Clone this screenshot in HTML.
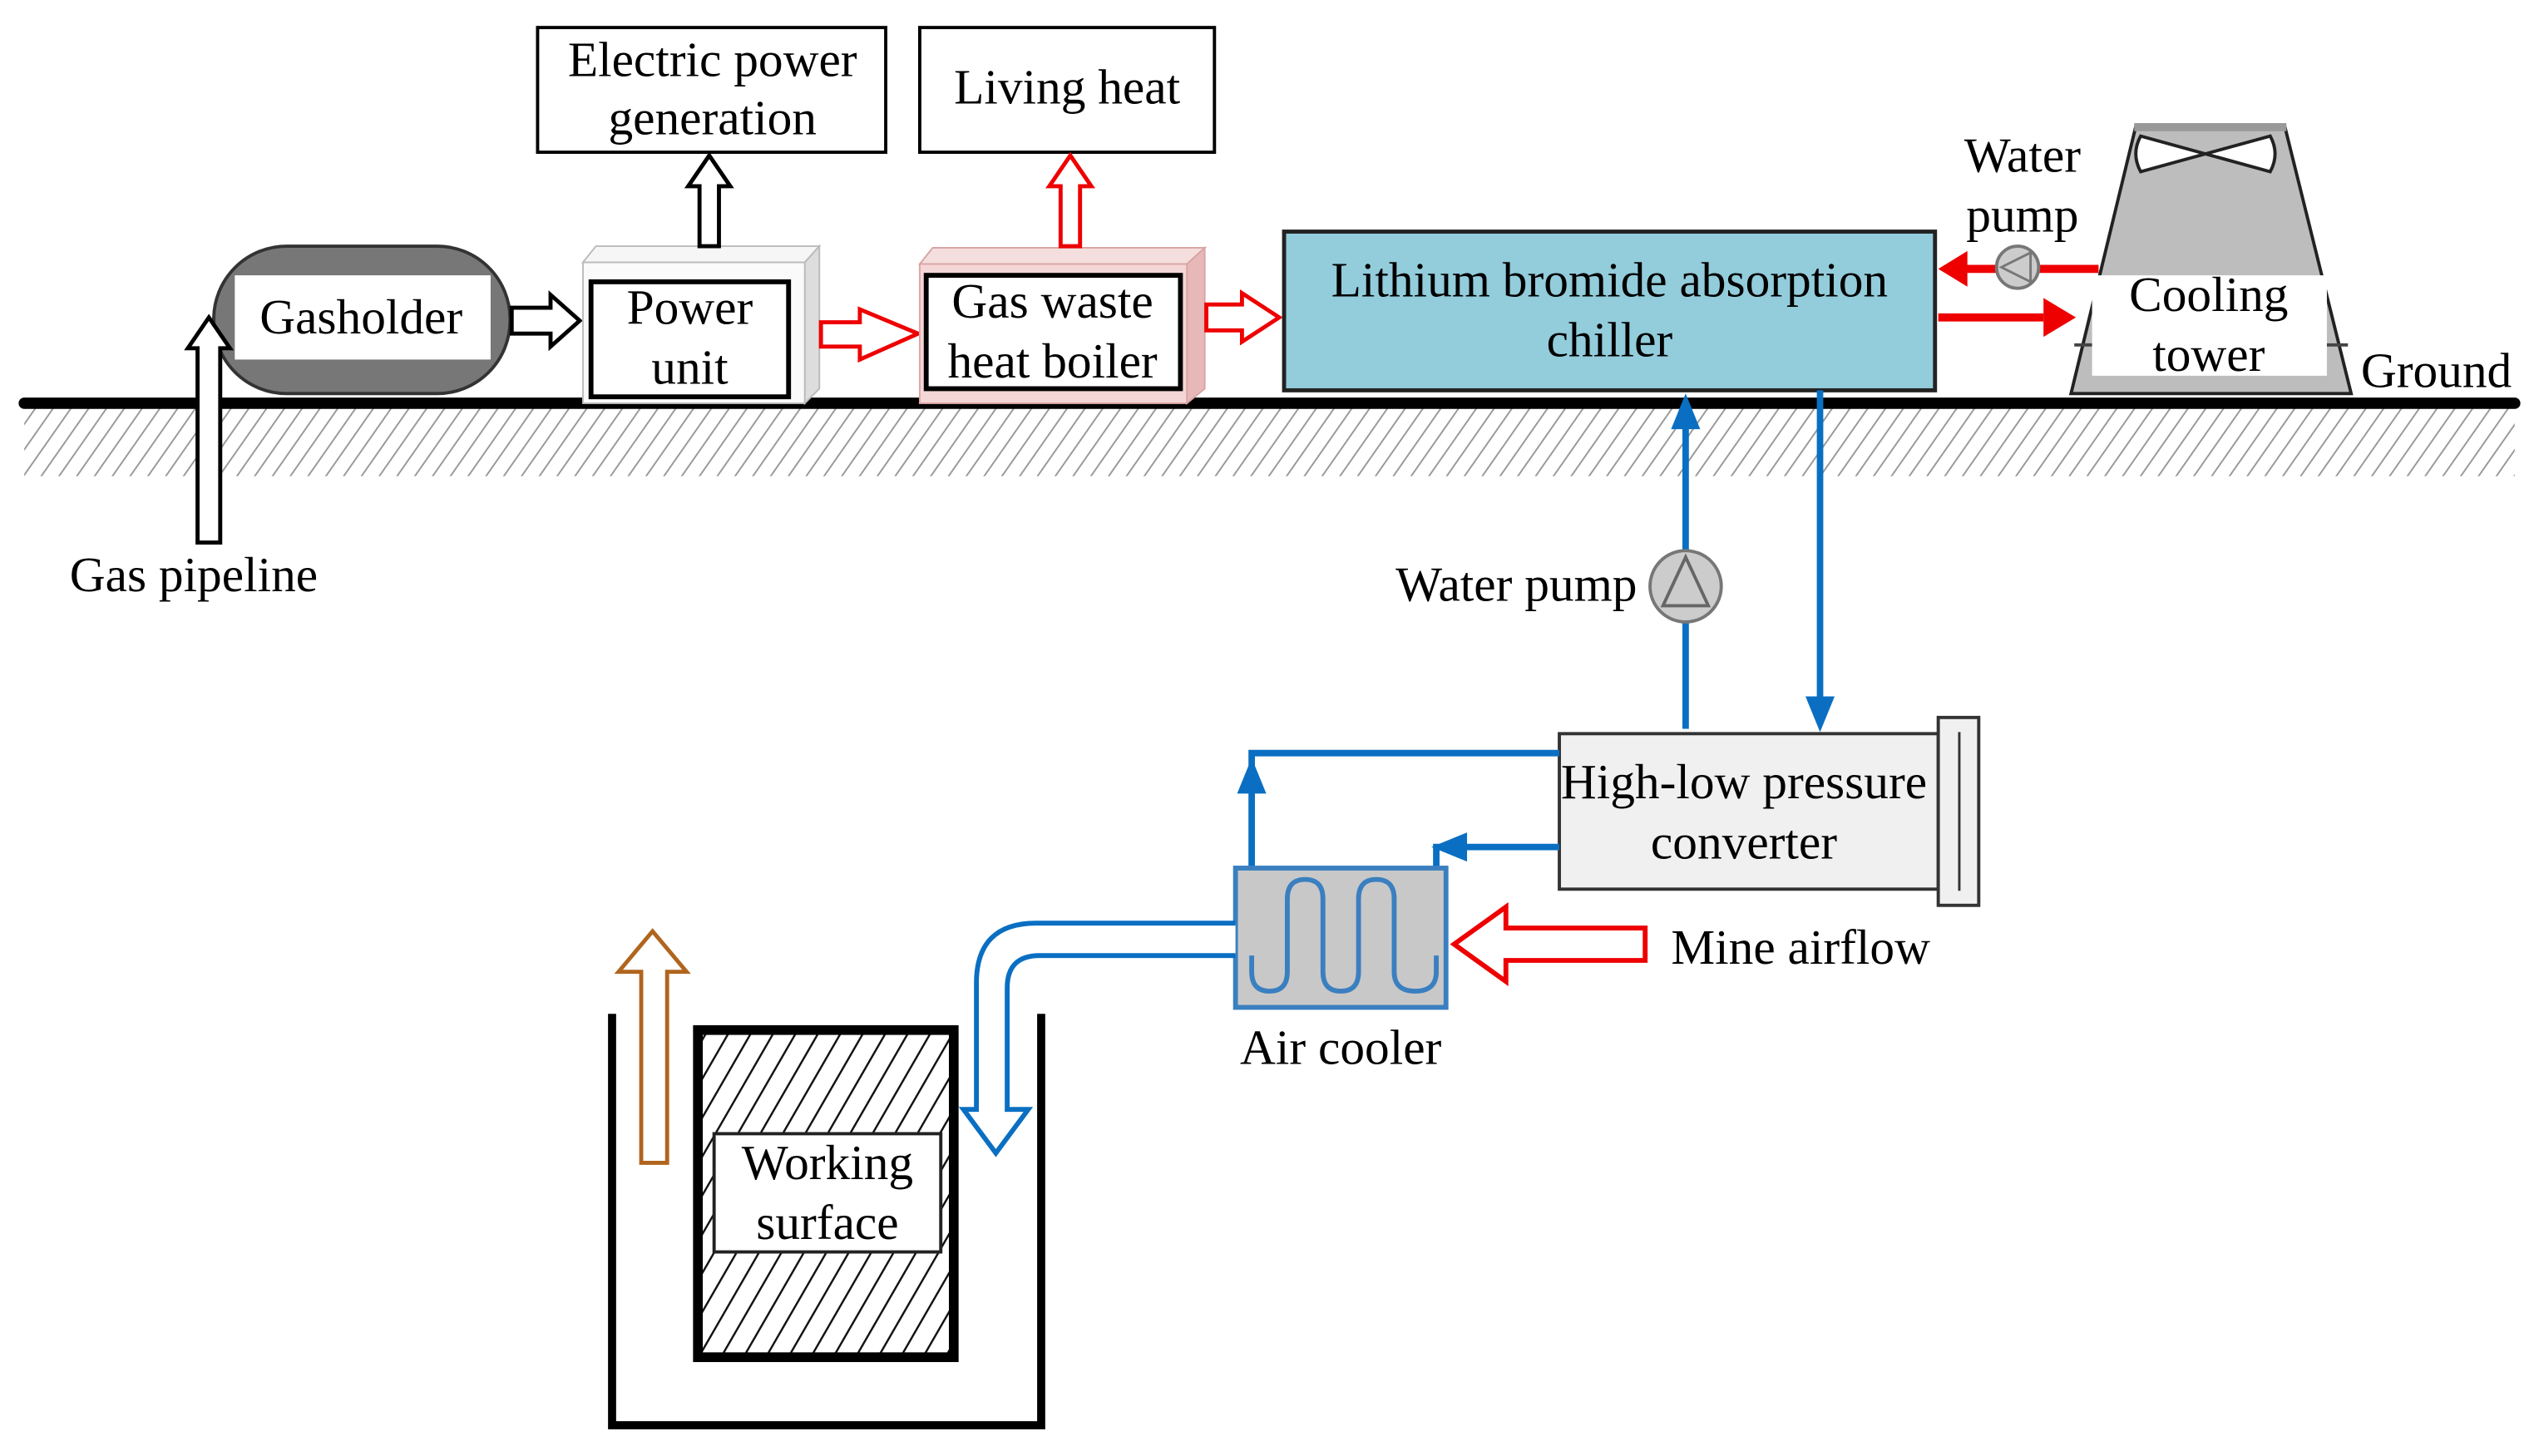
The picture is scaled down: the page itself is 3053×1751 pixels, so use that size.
<!DOCTYPE html>
<html><head><meta charset="utf-8"><style>html,body{margin:0;padding:0;background:#fff}svg{display:block}</style></head><body>
<svg width="3053" height="1751" viewBox="0 0 1568 899" preserveAspectRatio="none" xmlns="http://www.w3.org/2000/svg" font-family="'Liberation Serif', serif" font-size="30.5">
<defs>
<pattern id="h" width="9" height="9" patternUnits="userSpaceOnUse" patternTransform="rotate(35)"><line x1="0" y1="0" x2="0" y2="9" stroke="#999" stroke-width="2"/></pattern>
<pattern id="h2" width="12" height="12" patternUnits="userSpaceOnUse" patternTransform="rotate(30)"><line x1="0" y1="0" x2="0" y2="12" stroke="#111" stroke-width="2.5"/></pattern>
</defs>
<rect x="15" y="252" width="1538" height="42" fill="url(#h)"/>
<line x1="15" y1="249" x2="1553" y2="249" stroke="#000" stroke-width="7" stroke-linecap="round"/>
<!-- gasholder -->
<rect x="132" y="152" width="183" height="91" rx="45" fill="#777" stroke="#333" stroke-width="2"/>
<rect x="145" y="170" width="158" height="52" fill="#fff"/>
<text x="223" y="206" text-anchor="middle">Gasholder</text>
<polygon points="122,335 136,335 136,215 142,215 129,196 116,215 122,215" fill="#fff" stroke="#000" stroke-width="2.5"/>
<text x="43" y="365">Gas pipeline</text>
<polygon points="316,190 340,190 340,182 358,198 340,214 340,206 316,206" fill="#fff" stroke="#000" stroke-width="2.5"/>
<!-- power unit -->
<polygon points="360,162 368,152 506,152 497,162" fill="#f6f6f6" stroke="#bbb"/>
<polygon points="497,162 506,152 506,240 497,249" fill="#ddd" stroke="#bbb"/>
<rect x="360" y="162" width="137" height="87" fill="#fafafa" stroke="#bbb"/>
<rect x="365" y="174" width="122" height="71" fill="#fff" stroke="#000" stroke-width="3"/>
<text x="426" y="200" text-anchor="middle">Power</text>
<text x="426" y="237" text-anchor="middle">unit</text>
<rect x="332" y="17" width="215" height="77" fill="#fff" stroke="#000" stroke-width="2"/>
<text x="440" y="47" text-anchor="middle">Electric power</text>
<text x="440" y="83" text-anchor="middle">generation</text>
<polygon points="432,152 444,152 444,115 451,115 438,96 425,115 432,115" fill="#fff" stroke="#000" stroke-width="2.5"/>
<!-- boiler -->
<polygon points="507,199 531,199 531,191 567,206 531,222 531,214 507,214" fill="#fff" stroke="#e00" stroke-width="2.5"/>
<polygon points="568,163 576,153 744,153 733,163" fill="#f5dede" stroke="#d9a5a5"/>
<polygon points="733,163 744,153 744,240 733,249" fill="#e8b8b8" stroke="#d9a5a5"/>
<rect x="568" y="163" width="165" height="86" fill="#f5d6d6" stroke="#d9a5a5"/>
<rect x="572" y="170" width="157" height="70" fill="#fff" stroke="#000" stroke-width="3"/>
<text x="650" y="196" text-anchor="middle">Gas waste</text>
<text x="650" y="233" text-anchor="middle">heat boiler</text>
<rect x="568" y="17" width="182" height="77" fill="#fff" stroke="#000" stroke-width="2"/>
<text x="659" y="64" text-anchor="middle">Living heat</text>
<polygon points="655,152 667,152 667,115 674,115 661,96 648,115 655,115" fill="#fff" stroke="#e00" stroke-width="2.5"/>
<polygon points="745,188 767,188 767,181 790,196 767,211 767,204 745,204" fill="#fff" stroke="#e00" stroke-width="2.5"/>
<!-- chiller -->
<rect x="793" y="143" width="402" height="98" fill="#93ccdb" stroke="#222" stroke-width="2.5"/>
<text x="994" y="183" text-anchor="middle">Lithium bromide absorption</text>
<text x="994" y="220" text-anchor="middle">chiller</text>
<!-- cooling tower -->
<polygon points="1319,78 1411,78 1452,243 1279,243" fill="#bdbdbd" stroke="#222" stroke-width="2"/>
<line x1="1281" y1="213" x2="1450" y2="213" stroke="#444" stroke-width="2"/>
<rect x="1292" y="170" width="145" height="62" fill="#fff"/>
<rect x="1318" y="76" width="94" height="5" fill="#999"/>
<path d="M1322,84 Q1316,95 1322,106 L1402,84 Q1408,95 1402,106 Z" fill="#fff" stroke="#222" stroke-width="2"/>
<text x="1364" y="192" text-anchor="middle">Cooling</text>
<text x="1364" y="229" text-anchor="middle">tower</text>
<text x="1458" y="239">Ground</text>
<text x="1249" y="106" text-anchor="middle">Water</text>
<text x="1249" y="143" text-anchor="middle">pump</text>
<line x1="1296" y1="166" x2="1212" y2="166" stroke="#e00" stroke-width="5"/>
<polygon points="1197,166 1215,155 1215,177" fill="#e00"/>
<circle cx="1246" cy="165" r="13" fill="#ccc" stroke="#777" stroke-width="2"/>
<polygon points="1236,165 1254,156 1254,174" fill="none" stroke="#777" stroke-width="1.5"/>
<line x1="1197" y1="196" x2="1262" y2="196" stroke="#e00" stroke-width="5"/>
<polygon points="1282,196 1262,184 1262,208" fill="#e00"/>
<!-- blue pipes -->
<line x1="1041" y1="450" x2="1041" y2="262" stroke="#0a6fc2" stroke-width="4"/>
<polygon points="1041,243 1032,265 1050,265" fill="#0a6fc2"/>
<ellipse cx="1041" cy="362" rx="22" ry="22" fill="#ccc" stroke="#777" stroke-width="2"/>
<polygon points="1041,344 1027,374 1055,374" fill="none" stroke="#666" stroke-width="2"/>
<text x="1011" y="371" text-anchor="end">Water pump</text>
<line x1="1124" y1="241" x2="1124" y2="432" stroke="#0a6fc2" stroke-width="4"/>
<polygon points="1124,452 1115,430 1133,430" fill="#0a6fc2"/>
<rect x="963" y="453" width="234" height="96" fill="#f0f0f0" stroke="#333" stroke-width="2"/>
<rect x="1197" y="443" width="25" height="116" fill="#f0f0f0" stroke="#333" stroke-width="2"/>
<line x1="1210" y1="452" x2="1210" y2="550" stroke="#333" stroke-width="1.5"/>
<text x="1077" y="493" text-anchor="middle">High-low pressure</text>
<text x="1077" y="530" text-anchor="middle">converter</text>
<polyline points="963,465 773,465 773,590" fill="none" stroke="#0a6fc2" stroke-width="4"/>
<polygon points="773,468 764,490 782,490" fill="#0a6fc2"/>
<polyline points="963,523 887,523 887,590" fill="none" stroke="#0a6fc2" stroke-width="4"/>
<polygon points="884,523 906,514 906,532" fill="#0a6fc2"/>
<!-- air cooler -->
<rect x="763" y="536" width="130" height="86" fill="#c8c8c8" stroke="#3a7fc0" stroke-width="3"/>
<path d="M773,590 L773,600 Q773,612 784,612 Q795,612 795,600 L795,555 Q795,543 806,543 Q817,543 817,555 L817,600 Q817,612 828,612 Q839,612 839,600 L839,555 Q839,543 850,543 Q861,543 861,555 L861,600 Q861,612 874,612 Q887,612 887,600 L887,590" fill="none" stroke="#3a7fc0" stroke-width="3"/>
<text x="828" y="657" text-anchor="middle">Air cooler</text>
<path d="M763,570 L640,570 Q603,570 603,607 L603,685 L595,685 L615,712 L635,685 L622,685 L622,610 Q622,590 642,590 L763,590" fill="#fff" stroke="#0a6fc2" stroke-width="3"/>
<polygon points="1016,573 930,573 930,560 898,583 930,606 930,593 1016,593" fill="#fff" stroke="#e00" stroke-width="3"/>
<text x="1032" y="595">Mine airflow</text>
<!-- mine -->
<polyline points="378,626 378,880 643,880 643,626" fill="none" stroke="#000" stroke-width="5"/>
<rect x="431" y="636" width="158" height="202" fill="url(#h2)" stroke="#000" stroke-width="6"/>
<rect x="441" y="700" width="140" height="73" fill="#fff" stroke="#222" stroke-width="2"/>
<text x="511" y="728" text-anchor="middle">Working</text>
<text x="511" y="765" text-anchor="middle">surface</text>
<polygon points="396,718 412,718 412,600 424,600 403,575 382,600 396,600" fill="#fff" stroke="#b0651e" stroke-width="2.5"/>
</svg>
</body></html>
